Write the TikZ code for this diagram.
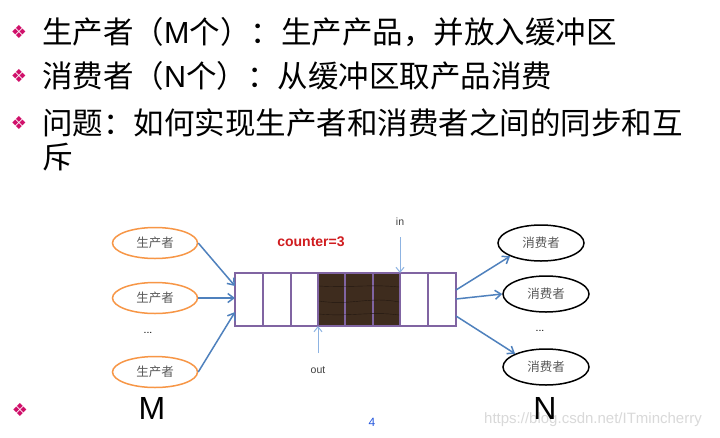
\documentclass[tikz,border=0pt]{standalone}
\usepackage{fontspec}
\setmainfont{Liberation Sans}
\newfontfamily\cjk{Noto Sans CJK SC}
\newfontfamily\djsans{DejaVu Sans}
\usetikzlibrary{arrows.meta,shapes.geometric}
\definecolor{bulletc}{HTML}{D0106A}
\definecolor{arrowc}{HTML}{4F81BD}
\definecolor{lightarrow}{HTML}{8DB3E2}
\definecolor{buf}{HTML}{8064A2}
\definecolor{wood}{HTML}{3E2C1E}
\definecolor{orangec}{HTML}{F79646}
\definecolor{redc}{HTML}{D01C1F}
\definecolor{pageblue}{HTML}{2255DD}
\tikzset{
  bul/.style={text=bulletc, font=\djsans\fontsize{18}{18}\selectfont, inner sep=0pt},
  line/.style={anchor=base west, inner sep=0pt, font=\cjk\fontsize{30.5}{30.5}\selectfont},
  prod/.style={ellipse, draw=orangec, line width=1.5pt, minimum width=85pt, minimum height=31pt, inner sep=0pt, font=\cjk\fontsize{12.5}{12.5}\selectfont, text=black!65},
  cons/.style={ellipse, draw=black, line width=1.5pt, minimum width=86pt, minimum height=36pt, inner sep=0pt, font=\cjk\fontsize{12.5}{12.5}\selectfont, text=black!65},
  cell/.style={draw=buf, line width=1.3pt},
  darkcell/.style={draw=buf, line width=1.3pt, fill=wood},
  flow/.style={draw=arrowc, line width=1.5pt, -{Straight Barb[length=6pt,width=9pt]}},
  ptr/.style={draw=lightarrow, line width=1pt, -{Straight Barb[length=5pt,width=8pt]}},
  big/.style={font=\fontsize{32}{32}\selectfont, inner sep=0pt},
  small/.style={font=\fontsize{10.5}{10.5}\selectfont, inner sep=0pt, text=black!75},
}
\begin{document}
\begin{tikzpicture}[x=1pt,y=-1pt]
\useasboundingbox (0,0) rectangle (720,437);
\fill[white] (0,0) rectangle (720,437);
% bullets and text
\node[bul] (b1) at (19,32) {❖};
\node[bul] (b2) at (19,76) {❖};
\node[bul] (b3) at (19,123) {❖};
\node[bul] (b4) at (20,410) {❖};
\node[line] (t1) at (42,43) {生产者（\fontspec{Liberation Sans}M\cjk 个）：生产产品，并放入缓冲区};
\node[line] (t2) at (42,87) {消费者（\fontspec{Liberation Sans}N\cjk 个）：从缓冲区取产品消费};
\node[line] (t3) at (42,134) {问题：如何实现生产者和消费者之间的同步和互};
\node[line] (t4) at (42,168) {斥};
% producers
\node[prod] (p1) at (155,243) {生产者};
\node[prod] (p2) at (155,298) {生产者};
\node[prod] (p3) at (155,372) {生产者};
\node[small, text=black] (pd) at (148,333) {...};
% consumers
\node[cons] (c1) at (541,243) {消费者};
\node[cons] (c2) at (546,294) {消费者};
\node[cons] (c3) at (546,367) {消费者};
\node[small, text=black] (cd) at (540,331) {...};
% buffer
\draw[cell] (235,273) rectangle (263,326);
\draw[cell] (263,273) rectangle (291,326);
\draw[cell] (291,273) rectangle (318,326);
\draw[darkcell] (318,273) rectangle (345,326);
\draw[darkcell] (345,273) rectangle (373,326);
\draw[darkcell] (373,273) rectangle (400,326);
\draw[cell] (400,273) rectangle (428,326);
\draw[cell] (428,273) rectangle (456,326);
\foreach \yy/\dx in {286/2,301/5,314/3}{
  \draw[black!45!wood, line width=0.4pt] (319,\yy) .. controls (350,\yy+\dx) and (370,\yy-\dx) .. (399,\yy+1);
}
\coordinate (bin1) at (235,286);
\coordinate (bin2) at (235,298);
\coordinate (bin3) at (235,312);
\coordinate (bout1) at (456,290);
\coordinate (bout2) at (456,299);
\coordinate (bout3) at (456,316);
\node[text=redc, font=\bfseries\fontsize{14}{14}\selectfont, inner sep=0pt] (cnt) at (311,242) {counter=3};
% pointers
\node[small] (in) at (400,222) {in};
\node[small] (out) at (318,370) {out};
\coordinate (inTip) at (400,273);
\coordinate (outTip) at (318,326);
\draw[ptr] (400,237) -- (inTip);
\draw[ptr] (318,353) -- (outTip);
% flows
\draw[flow] (p1.east) -- (bin1);
\draw[flow] (p2.east) -- (bin2);
\draw[flow] (p3.east) -- (bin3);
\draw[flow] (bout1) -- (c1.south west);
\draw[flow] (bout2) -- (c2.west);
\draw[flow] (bout3) -- (c3.north west);
% labels
\node[text=black!15, font=\fontsize{15}{15}\selectfont, inner sep=0pt, anchor=west] (wm) at (484,420) {https://blog.csdn.net/ITmincherry};
\node[big] (M) at (152,408) {M};
\node[big] (N) at (545,408) {N};
\node[text=pageblue, font=\fontsize{12}{12}\selectfont, inner sep=0pt] (pg) at (372,422) {4};
\end{tikzpicture}
\end{document}
